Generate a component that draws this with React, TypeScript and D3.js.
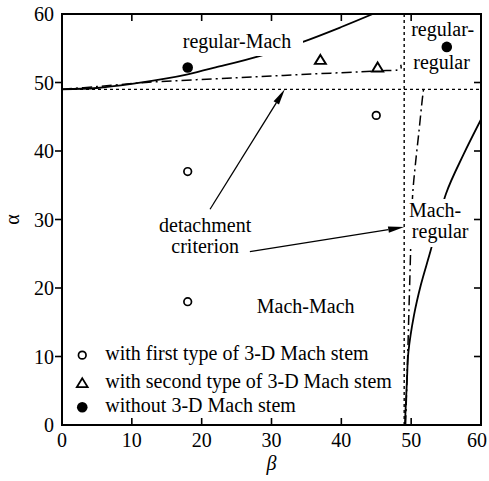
import React from "react";
import * as d3 from "d3";

const xTicks = [0, 10, 20, 30, 40, 50, 60];
const yTicks = [0, 10, 20, 30, 40, 50, 60];

// regular-Mach boundary (solid)
const regMachSolid: [number, number][] = [
  [0, 49], [5, 49.2], [10, 49.8], [15, 50.6], [18, 51.2], [22, 52.2],
  [28.4, 53.9], [34.4, 55.9], [40, 58.1], [44.5, 60],
];
// regular-Mach boundary (dash-dot)
const regMachDashDot: [number, number][] = [
  [0, 49], [5, 49.4], [12, 50], [25, 50.7], [35, 51.2], [45, 51.7], [48.5, 52], [48.5, 52.6],
];
// Mach-regular boundary (solid), [beta, alpha]
const machRegSolid: [number, number][] = [
  [49.1, 0], [49.4, 6.6], [49.6, 10.6], [50.4, 16], [51.4, 20.5], [52.8, 25.5],
  [55, 33.8], [57.5, 39.5], [60, 44.6],
];
// Mach-regular boundary (dash-dot)
const machRegDashDot: [number, number][] = [
  [49.2, 0], [49.5, 10], [49.8, 21], [50.2, 33.4], [50.6, 38], [51.1, 42.7], [51.6, 47.6], [51.8, 49.2],
];
const detachAlpha = 49;
const detachBeta = 49;

const firstType: [number, number][] = [[18, 37], [18, 18], [45, 45.2]];
const secondType: [number, number][] = [[37, 53.3], [45.2, 52.2]];
const withoutStem: [number, number][] = [[18, 52.2], [55.1, 55.2]];

const legendLabels = [
  "with first type of 3-D Mach stem",
  "with second type of 3-D Mach stem",
  "without 3-D Mach stem",
];

const W = 489, H = 481;
const x = d3.scaleLinear().domain([0, 60]).range([62, 481]);
const y = d3.scaleLinear().domain([0, 60]).range([425, 14]);

const FONT = "'Liberation Serif', 'Times New Roman', serif";

function Arrow({ from, to }: { from: [number, number]; to: [number, number] }) {
  const x1 = x(from[0]), y1 = y(from[1]), x2 = x(to[0]), y2 = y(to[1]);
  const ang = Math.atan2(y2 - y1, x2 - x1);
  const L = 16, Wd = 3.2;
  const bx = x2 - L * Math.cos(ang), by = y2 - L * Math.sin(ang);
  const px = -Math.sin(ang) * Wd, py = Math.cos(ang) * Wd;
  return (
    <g>
      <line x1={x1} y1={y1} x2={bx} y2={by} stroke="#000" strokeWidth={1.3} />
      <path d={`M${x2},${y2}L${bx + px},${by + py}L${bx - px},${by - py}Z`} fill="#000" />
    </g>
  );
}

export default function App() {
  const lineXY = d3.line<[number, number]>().x(d => x(d[0])).y(d => y(d[1])).curve(d3.curveCatmullRom);
  const tri = (cx: number, cy: number, s = 10) =>
    `M${cx},${cy - s * 0.5}L${cx + s * 0.55},${cy + s * 0.4}L${cx - s * 0.55},${cy + s * 0.4}Z`;
  const inner = [10, 20, 30, 40, 50];
  const legendRows = [10.2, 6.1, 2.6];
  return (
    <svg width={W} height={H} style={{ position: "absolute", left: 0, top: 0, background: "#fff" }}
      fontFamily={FONT}>
      <defs>
        <clipPath id="plot"><rect x={62} y={14} width={419} height={411} /></clipPath>
      </defs>
      <g clipPath="url(#plot)" fill="none" stroke="#000">
        <line x1={x(0)} x2={x(60)} y1={y(detachAlpha)} y2={y(detachAlpha)} strokeWidth={1.4} strokeDasharray="3,3" />
        <line x1={x(detachBeta)} x2={x(detachBeta)} y1={y(0)} y2={y(60)} strokeWidth={1.4} strokeDasharray="3,3" />
        <path d={lineXY(regMachSolid) || ""} strokeWidth={1.8} />
        <path d={lineXY(regMachDashDot) || ""} strokeWidth={1.5} strokeDasharray="10,4,2,4" />
        <path d={lineXY(machRegSolid) || ""} strokeWidth={1.8} />
        <path d={lineXY(machRegDashDot) || ""} strokeWidth={1.5} strokeDasharray="10,4,2,4" />
      </g>
      {/* label backgrounds */}
      <rect x={180} y={28} width={123} height={28} fill="#fff" />
      <rect x={406} y={199} width={66} height={48} fill="#fff" />

      {/* markers */}
      {firstType.map((d, i) => (
        <circle key={"a" + i} cx={x(d[0])} cy={y(d[1])} r={3.8} fill="#fff" stroke="#000" strokeWidth={1.7} />
      ))}
      {secondType.map((d, i) => (
        <path key={"b" + i} d={tri(x(d[0]), y(d[1]))} fill="#fff" stroke="#000" strokeWidth={1.9} />
      ))}
      {withoutStem.map((d, i) => (
        <circle key={"c" + i} cx={x(d[0])} cy={y(d[1])} r={5.3} fill="#000" />
      ))}

      {/* frame */}
      <rect x={62} y={14} width={419} height={411} fill="none" stroke="#000" strokeWidth={2} />
      {inner.map(t => (
        <g key={"t" + t} stroke="#000" strokeWidth={1.6}>
          <line x1={x(t)} x2={x(t)} y1={y(0)} y2={y(0) - 7} />
          <line x1={x(t)} x2={x(t)} y1={y(60)} y2={y(60) + 7} />
          <line x1={x(0) - 7} x2={x(0)} y1={y(t)} y2={y(t)} />
          <line x1={x(60) - 7} x2={x(60)} y1={y(t)} y2={y(t)} />
        </g>
      ))}
      {xTicks.map(t => (
        <text key={"xl" + t} x={Math.min(x(t), W - 12)} y={447} textAnchor="middle" fontSize={20}>{t}</text>
      ))}
      {yTicks.map(t => (
        <text key={"yl" + t} x={54} y={y(t) + 7} textAnchor="end" fontSize={20}>{t}</text>
      ))}
      <text x={x(30)} y={470} textAnchor="middle" fontSize={20} fontStyle="italic">β</text>
      <text transform={`translate(19,${y(30)}) rotate(-90)`} textAnchor="middle" fontSize={20}>α</text>

      {/* annotations */}
      <g fontSize={20}>
        <text x={x(17.3)} y={y(55)}>regular-Mach</text>
        <text x={x(50)} y={y(56.8)}>regular-</text>
        <text x={x(50.3)} y={y(51.9)}>regular</text>
        <text x={x(20.5)} y={y(28.2)} textAnchor="middle">detachment</text>
        <text x={x(20.5)} y={y(25.1)} textAnchor="middle">criterion</text>
        <text x={x(49.7)} y={y(30.3)}>Mach-</text>
        <text x={x(50.1)} y={y(27.3)}>regular</text>
        <text x={x(27.9)} y={y(16.35)}>Mach-Mach</text>
      </g>
      <Arrow from={[21.2, 31.5]} to={[31.9, 49]} />
      <Arrow from={[26.9, 25.3]} to={[49, 28.9]} />

      {/* legend */}
      <circle cx={x(2.9)} cy={y(legendRows[0])} r={3.8} fill="#fff" stroke="#000" strokeWidth={1.7} />
      <path d={tri(x(2.9), y(legendRows[1]))} fill="#fff" stroke="#000" strokeWidth={1.7} />
      <circle cx={x(2.9)} cy={y(legendRows[2])} r={5.3} fill="#000" />
      {legendLabels.map((s, i) => (
        <text key={s} x={x(6.2)} y={y(legendRows[i]) + 5} fontSize={20}>{s}</text>
      ))}
    </svg>
  );
}
